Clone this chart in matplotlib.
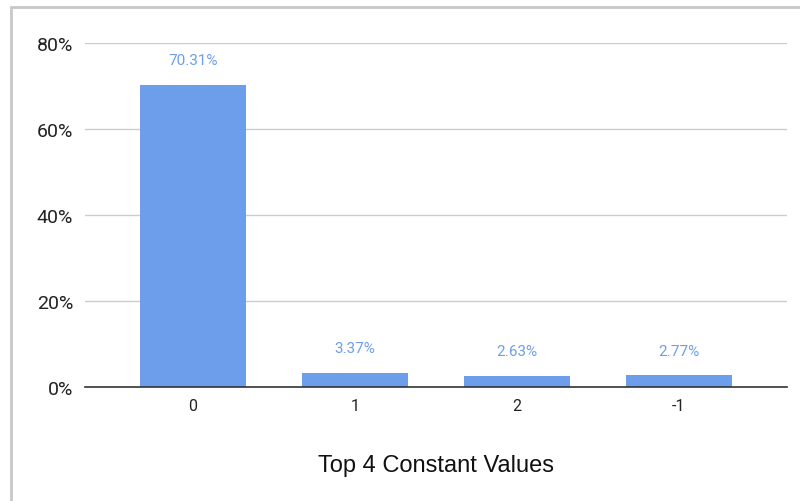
import matplotlib.pyplot as plt
from matplotlib.patches import Rectangle

categorias = ['0', '1', '2', '-1']
porcentajes = [70.31, 3.37, 2.63, 2.77]
etiquetas = ['70.31%', '3.37%', '2.63%', '2.77%']
ticks_y = [0, 20, 40, 60, 80]

AZUL = '#6d9eeb'

fig = plt.figure(figsize=(8, 5.02), dpi=100)
ax = fig.add_axes([85/800, 1 - 388/502, 702/800, 344/502])

x = list(range(len(categorias)))
ax.bar(x, porcentajes, width=0.65, color=AZUL, zorder=3)
for xi, v, t in zip(x, porcentajes, etiquetas):
    ax.annotate(t, (xi, v), xytext=(0, 17.5), textcoords='offset points',
                ha='center', va='center', color=AZUL, fontsize=11, family=['Roboto', 'DejaVu Sans'])

ax.set_xlim(-0.667, 3.667)
ax.set_ylim(0, 80)
ax.set_yticks(ticks_y)
ax.set_yticklabels([f'{t}%' for t in ticks_y], fontsize=14, family=['Roboto', 'DejaVu Sans'], color='#222222')
ax.set_xticks(x)
ax.set_xticklabels(categorias, fontsize=11.5, family=['Roboto', 'DejaVu Sans'], color='#222222')
ax.tick_params(axis='y', length=0, pad=8.5)
ax.tick_params(axis='x', length=0, pad=8)
ax.grid(axis='y', color='#cccccc', lw=1, zorder=0)
for s in ['top', 'right', 'left']:
    ax.spines[s].set_visible(False)
ax.spines['bottom'].set_color('#333333')
ax.spines['bottom'].set_linewidth(1.2)
ax.spines['bottom'].set_zorder(4)

fig.text(436/800, 1 - 466/502, 'Top 4 Constant Values', ha='center', va='center',
         fontsize=17, family=['Liberation Sans', 'DejaVu Sans'], color='#111111')

fig.add_artist(Rectangle((11/800, -0.1), 1.0, 0.1 + (502 - 8)/502, transform=fig.transFigure,
                         fill=False, edgecolor='#c8c8c8', lw=2, clip_on=False))

fig.savefig('out.png', dpi=100)
